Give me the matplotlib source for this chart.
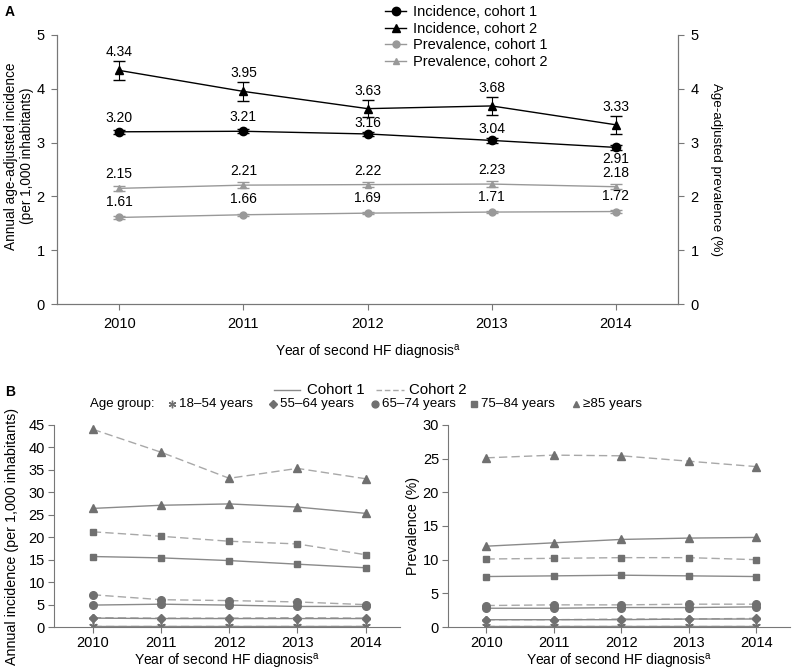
import matplotlib
matplotlib.use("Agg")
from matplotlib import pyplot as plt
from matplotlib.lines import Line2D

plt.rcParams['font.family'] = ['Liberation Sans', 'DejaVu Sans']
plt.rcParams['mathtext.fontset'] = 'custom'
plt.rcParams['mathtext.rm'] = 'Liberation Sans'

years = [2010, 2011, 2012, 2013, 2014]

# panel A: age-adjusted values with error bar half-widths
inc_c1 = [3.20, 3.21, 3.16, 3.04, 2.91]
inc_c1_err = [0.04, 0.04, 0.04, 0.04, 0.04]
inc_c2 = [4.34, 3.95, 3.63, 3.68, 3.33]
inc_c2_err = [0.18, 0.18, 0.16, 0.17, 0.17]
prev_c1 = [1.61, 1.66, 1.69, 1.71, 1.72]
prev_c1_err = [0.02, 0.02, 0.02, 0.02, 0.02]
prev_c2 = [2.15, 2.21, 2.22, 2.23, 2.18]
prev_c2_err = [0.05, 0.05, 0.05, 0.05, 0.05]

# panel B: by age group
age_groups = ['18\u201354 years', '55\u201364 years', '65\u201374 years', '75\u201384 years', '\u226585 years']
age_markers = [(6, 2, 0), 'D', 'o', 's', '^']
age_msize = [6, 4, 5.5, 5, 5.5]

inc_age_c1 = [
    [0.2, 0.2, 0.2, 0.2, 0.2],
    [2.0, 1.9, 1.9, 1.9, 1.9],
    [4.9, 5.1, 4.9, 4.6, 4.6],
    [15.7, 15.4, 14.8, 14.0, 13.2],
    [26.4, 27.1, 27.4, 26.7, 25.3],
]
inc_age_c2 = [
    [0.2, 0.2, 0.2, 0.2, 0.2],
    [2.1, 2.0, 2.0, 2.1, 2.0],
    [7.2, 6.1, 5.9, 5.6, 5.0],
    [21.2, 20.2, 19.1, 18.5, 16.1],
    [44.0, 38.9, 33.1, 35.3, 33.0],
]
prev_age_c1 = [
    [0.1, 0.1, 0.1, 0.1, 0.1],
    [1.1, 1.1, 1.1, 1.2, 1.2],
    [2.8, 2.8, 2.9, 2.9, 3.0],
    [7.5, 7.6, 7.7, 7.6, 7.5],
    [12.0, 12.5, 13.0, 13.2, 13.3],
]
prev_age_c2 = [
    [0.1, 0.1, 0.1, 0.1, 0.1],
    [1.1, 1.1, 1.2, 1.2, 1.3],
    [3.2, 3.3, 3.3, 3.4, 3.4],
    [10.1, 10.2, 10.3, 10.3, 10.0],
    [25.1, 25.5, 25.4, 24.6, 23.8],
]

xlabel = r'Year of second HF diagnosis$^{\mathrm{a}}$'
spine_col = '#777777'
fs = 10

fig = plt.figure(figsize=(7.93, 6.70), dpi=100)
W, H = 793.0, 670.0

# ---------------- panel A ----------------
ax = fig.add_axes([0.072, 0.546, 0.783, 0.402])
ax.errorbar(years, inc_c1, yerr=inc_c1_err, color='black', marker='o', ms=6,
            lw=1, capsize=4, elinewidth=0.8, label='Incidence, cohort 1')
ax.errorbar(years, inc_c2, yerr=inc_c2_err, color='black', marker='^', ms=6,
            lw=1, capsize=4, elinewidth=0.8, label='Incidence, cohort 2')
ax.errorbar(years, prev_c1, yerr=prev_c1_err, color='#999999', marker='o', ms=5,
            lw=1, capsize=4, elinewidth=0.8, label='Prevalence, cohort 1')
ax.errorbar(years, prev_c2, yerr=prev_c2_err, color='#999999', marker='^', ms=5,
            lw=1, capsize=4, elinewidth=0.8, label='Prevalence, cohort 2')

for i, yr in enumerate(years):
    ax.annotate(f'{inc_c2[i]:.2f}', (yr, inc_c2[i]), xytext=(0, 13), textcoords='offset points',
                ha='center', va='center', fontsize=fs)
    off = -8 if i == 4 else (8 if i >= 2 else 10)
    ax.annotate(f'{inc_c1[i]:.2f}', (yr, inc_c1[i]), xytext=(0, off), textcoords='offset points',
                ha='center', va='center', fontsize=fs)
    ax.annotate(f'{prev_c2[i]:.2f}', (yr, prev_c2[i]), xytext=(0, 10), textcoords='offset points',
                ha='center', va='center', fontsize=fs)
    ax.annotate(f'{prev_c1[i]:.2f}', (yr, prev_c1[i]), xytext=(0, 11), textcoords='offset points',
                ha='center', va='center', fontsize=fs)

ax.set_xlim(2009.5, 2014.5)
ax.set_ylim(0, 5)
ax.set_xticks(years)
ax.set_yticks(range(6))
ax.set_xlabel(xlabel, fontsize=fs, labelpad=9)
ax.set_ylabel('Annual age-adjusted incidence\n(per 1,000 inhabitants)', fontsize=9.8)
ax.yaxis.set_label_coords(-0.037, 0.55)
ax.spines['top'].set_visible(False)
for s in ['left', 'bottom', 'right']:
    ax.spines[s].set_color(spine_col)
ax.tick_params(labelsize=fs + 0.5, color=spine_col, length=4, pad=5)

ax2 = ax.twinx()
ax2.set_ylim(0, 5)
ax2.set_yticks(range(6))
ax2.spines['top'].set_visible(False)
for s in ['left', 'bottom', 'right']:
    ax2.spines[s].set_color(spine_col)
ax2.tick_params(labelsize=fs + 0.5, color=spine_col, length=4, pad=5)
ax2.set_ylabel('Age-adjusted prevalence (%)', rotation=270, labelpad=17, fontsize=9.6)

handles, labels = ax.get_legend_handles_labels()
handles = [h[0] for h in handles]
fig.legend(handles, labels, loc='upper left', bbox_to_anchor=(0.475, 1.005), frameon=False,
           fontsize=10.5, handlelength=1.4, handletextpad=0.5, labelspacing=0.17, borderpad=0.1)

fig.text(0.006, 0.982, 'A', fontsize=10, fontweight='bold', va='center')
fig.text(0.006, 0.415, 'B', fontsize=10, fontweight='bold', va='center')

# ---------------- panel B ----------------
c1_col = '#8a8a8a'
c2_col = '#a8a8a8'
mk_col = '#707070'


def draw_panel(axb, c1, c2, ylim, yticks, ylabel):
    for k in range(len(age_groups)):
        axb.plot(years, c2[k], color=c2_col, lw=1, dashes=(6, 3), marker=age_markers[k],
                 ms=age_msize[k], mfc=mk_col, mec=mk_col)
        axb.plot(years, c1[k], color=c1_col, lw=1, marker=age_markers[k],
                 ms=age_msize[k], mfc=mk_col, mec=mk_col)
    axb.set_xlim(2009.43, 2014.5)
    axb.set_ylim(*ylim)
    axb.set_xticks(years)
    axb.set_yticks(yticks)
    axb.set_xlabel(xlabel, fontsize=fs, labelpad=1)
    axb.set_ylabel(ylabel, fontsize=10.3, labelpad=2)
    axb.spines['top'].set_visible(False)
    axb.spines['right'].set_visible(False)
    for s in ['left', 'bottom']:
        axb.spines[s].set_color(spine_col)
    axb.tick_params(labelsize=fs + 0.5, color=spine_col, length=4, pad=2.5)


axl = fig.add_axes([0.068, 0.064, 0.436, 0.302])
draw_panel(axl, inc_age_c1, inc_age_c2, (0, 45), range(0, 46, 5),
           'Annual incidence (per 1,000 inhabitants)')
axl.yaxis.set_label_coords(-0.1, 0.45)

axr = fig.add_axes([0.565, 0.064, 0.431, 0.302])
draw_panel(axr, prev_age_c1, prev_age_c2, (0, 30), range(0, 31, 5), 'Prevalence (%)')

# cohort key (line styles)
y_row1 = 1 - 390 / H
fig.add_artist(Line2D([274 / W, 300 / W], [y_row1, y_row1], color=c1_col, lw=1,
                      transform=fig.transFigure))
fig.text(307 / W, y_row1, 'Cohort 1', fontsize=10.8, va='center')
fig.add_artist(Line2D([376 / W, 404 / W], [y_row1, y_row1], color=c2_col, lw=1, dashes=(4, 2),
                      transform=fig.transFigure))
fig.text(409 / W, y_row1, 'Cohort 2', fontsize=10.8, va='center')

# age group key (markers)
y_row2 = 1 - 404 / H
fig.text(154 / W, y_row2, 'Age group:', fontsize=9.5, va='center', ha='right')
marker_x = [172, 273, 375, 474, 576]
for k, mx in enumerate(marker_x):
    fig.add_artist(Line2D([mx / W], [y_row2], ls='none', marker=age_markers[k],
                          ms=age_msize[k] * 0.9, mfc=mk_col, mec=mk_col,
                          transform=fig.transFigure))
    fig.text((mx + 7) / W, y_row2, age_groups[k], fontsize=9.6, va='center')

fig.savefig('out.png', dpi=100)
